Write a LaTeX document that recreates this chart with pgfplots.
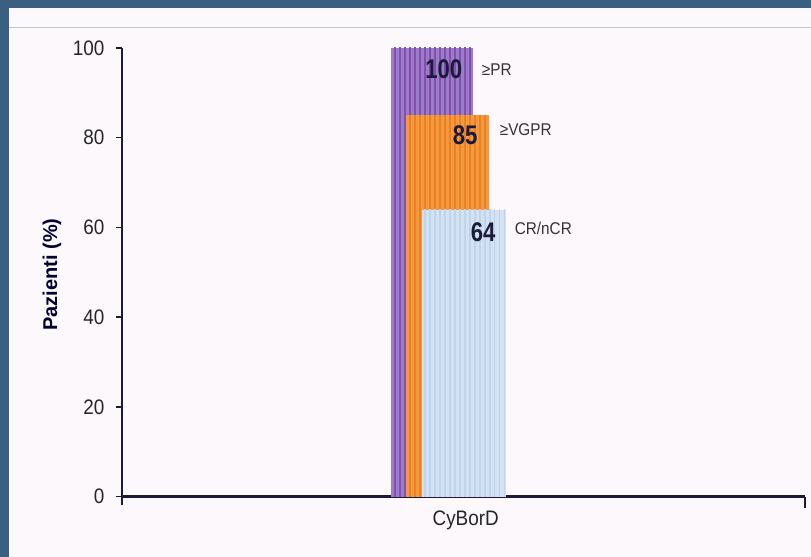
\documentclass[border=0pt]{standalone}
\usepackage{fontspec}
\setmainfont{Liberation Sans}
\newfontfamily\cond[FakeStretch=0.9]{Liberation Sans}
\newfontfamily\condb[FakeStretch=0.82]{Liberation Sans}
\usepackage{pgfplots}
\pgfplotsset{compat=1.18}
\usetikzlibrary{patterns.meta}
\definecolor{frame}{HTML}{3A5F80}
\definecolor{bg}{HTML}{FCF8FB}
\definecolor{axisc}{HTML}{1C1A3A}
\definecolor{purp}{HTML}{9A7CC8}
\definecolor{purpdark}{HTML}{8450B0}
\definecolor{orng}{HTML}{F39A3C}
\definecolor{orngdark}{HTML}{EC8028}
\definecolor{lblue}{HTML}{D2E2F3}
\definecolor{lbluedark}{HTML}{C0D5EC}
\begin{document}
\begin{tikzpicture}
\fill[bg] (0,0) rectangle (811bp,557bp);
\fill[frame] (0,0) rectangle (9bp,557bp);
\fill[frame] (0,549bp) rectangle (811bp,557bp);
\draw[line width=1bp, color=frame!35] (9bp,529bp) -- (811bp,529bp);
\begin{axis}[
  at={(122bp,60bp)}, anchor=south west,
  scale only axis, width=683bp, height=449bp,
  xmin=-342, xmax=341, ymin=0, ymax=100,
  axis x line=bottom, axis y line=left,
  axis line style={-, line width=2bp, color=axisc},
  x axis line style={line width=3bp},
  ytick={0,20,40,60,80,100},
  xtick={2}, xticklabels={CyBorD},
  xtick style={draw=none},
  tick align=outside, major tick length=6bp,
  ytick style={line width=1.5bp, color=axisc},
  /pgf/number format/assume math mode=true,
  tick label style={font=\cond\fontsize{21bp}{21bp}\selectfont, text=black!85},
  yticklabel style={xshift=-8bp},
  xticklabel style={yshift=-5bp},
  ylabel={Pazienti (\%)},
  every axis y label/.style={at={(axis description cs:-0.1025,0.495)}, rotate=90, anchor=center, font=\bfseries\fontsize{20bp}{20bp}\selectfont, text=black!80!blue},
  clip=false,
]
\addplot[ybar, bar width=82bp, bar shift=0pt, fill=purp, draw=none,
  postaction={pattern={Lines[angle=90,distance=5bp,line width=1.6bp]}, pattern color=purpdark}]
  coordinates {(-31.5,100)};
\addplot[ybar, bar width=83bp, bar shift=0pt, fill=orng, draw=none,
  postaction={pattern={Lines[angle=90,distance=5bp,line width=1.6bp]}, pattern color=orngdark}]
  coordinates {(-16,85)};
\addplot[ybar, bar width=84bp, bar shift=0pt, fill=lblue, draw=none,
  postaction={pattern={Lines[angle=90,distance=5bp,line width=1.6bp]}, pattern color=lbluedark}]
  coordinates {(0.5,64)};
\draw[axisc, line width=2bp] (axis cs:-342,0) -- ([yshift=-8bp]axis cs:-342,0);
\draw[axisc, line width=2bp] (axis cs:341,0) -- ([yshift=-11bp]axis cs:341,0);
\begin{scope}[font=\condb\bfseries\fontsize{27bp}{27bp}\selectfont, text=axisc]
\node at (axis cs:-20,95.2) {100};
\node at (axis cs:1.5,80.6) {85};
\node at (axis cs:19.5,59.0) {64};
\end{scope}
\begin{scope}[font=\cond\fontsize{17bp}{17bp}\selectfont, text=black!80]
\node[anchor=west, inner sep=0pt] at (axis cs:18,95.1) {≥PR};
\node[anchor=west, inner sep=0pt] at (axis cs:36,81.7) {≥VGPR};
\node[anchor=west, inner sep=0pt] at (axis cs:51,59.7) {CR/nCR};
\end{scope}
\end{axis}
\end{tikzpicture}
\end{document}
